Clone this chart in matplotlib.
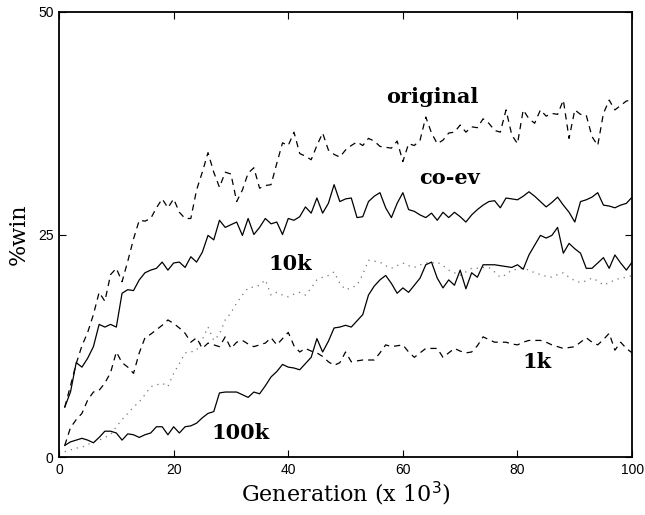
import matplotlib
matplotlib.use("Agg")
import matplotlib.pyplot as plt
import numpy as np

generation = list(range(1, 101))

original = [5.6, 8, 10.5, 12.5, 14, 16, 18.5, 17.5, 20.5, 21.2,
            19.7, 22, 24.5, 26.6, 26.5, 26.8, 28, 29, 28, 29,
            27.5, 26.8, 26.8, 30, 32, 34.2, 32, 30.3, 32, 31.8,
            28.7, 30, 31.9, 32.5, 30.2, 30.5, 30.6, 33, 35.3, 35,
            36.5, 34.1, 33.8, 33.4, 35, 36.4, 34.5, 34, 33.7, 34.5,
            35, 35.4, 35, 35.8, 35.5, 34.9, 34.8, 34.7, 35.5, 33.2,
            35.2, 35, 35.6, 38.2, 36.4, 35.2, 35.6, 36.4, 36.5, 37.3,
            36.5, 37.1, 37, 38, 37.5, 36.7, 36.5, 39, 36.2, 35.2,
            39, 38, 37.5, 39, 38.3, 38.6, 38.5, 40.1, 35.8, 39,
            38.5, 38.4, 36, 35, 38.6, 40.1, 39, 39.5, 40, 40.1]

coev = [5.6, 7.3, 10.6, 10.1, 11.1, 12.4, 14.9, 14.6, 14.9, 14.6,
        18.4, 18.8, 18.7, 19.9, 20.7, 21, 21.2, 21.9, 21, 21.8,
        21.9, 21.3, 22.5, 21.9, 23, 24.9, 24.4, 26.6, 25.8, 26.1,
        26.4, 24.9, 26.8, 25, 25.8, 26.8, 26.2, 26.4, 25, 26.8,
        26.6, 27, 28.1, 27.4, 29.1, 27.4, 28.5, 30.6, 28.7, 29,
        29.1, 26.9, 27, 28.7, 29.3, 29.7, 28, 26.9, 28.5, 29.7,
        27.8, 27.6, 27.2, 26.9, 27.4, 26.6, 27.5, 26.9, 27.5, 27,
        26.4, 27.2, 27.8, 28.3, 28.7, 28.8, 28, 29.1, 29, 28.9,
        29.3, 29.8, 29.3, 28.7, 28.1, 28.6, 29.2, 28.3, 27.5, 26.4,
        28.7, 28.9, 29.2, 29.7, 28.3, 28.2, 28, 28.3, 28.5, 29.2]

k10 = [0.6, 0.8, 1.0, 1.1, 1.4, 1.7, 1.9, 2.2, 2.5, 3.4,
       4.2, 4.9, 5.6, 6.2, 7, 7.9, 8.1, 8.3, 7.9, 9.4,
       10.5, 11.7, 11.8, 12, 13.2, 14.6, 13.1, 13.8, 15.4, 16.2,
       17.3, 18.2, 19, 19.1, 19.3, 19.9, 18.2, 18.5, 18.2, 18,
       18.3, 18.5, 18.2, 19, 19.9, 20.2, 20.4, 20.8, 19.5, 18.8,
       19, 19.3, 20.5, 22.1, 22, 21.9, 21.5, 21.2, 21.5, 21.8,
       21.5, 21.3, 21.6, 21.8, 21.8, 21.9, 21.5, 21, 20.7, 20.4,
       20.8, 21.2, 21.2, 21.3, 21.3, 20.8, 20.2, 20.5, 21, 21.1,
       21.2, 21, 20.7, 20.5, 20.3, 20.2, 20.5, 20.7, 20.2, 19.8,
       19.6, 19.8, 20.1, 19.8, 19.3, 19.6, 19.9, 20.1, 20.2, 20.4]

k1 = [1.3, 3.3, 4.2, 4.9, 6.4, 7.3, 7.5, 8.3, 9.5, 11.8,
      10.6, 10.1, 9.4, 11.7, 13.4, 13.8, 14.3, 14.8, 15.4, 15,
      14.5, 13.9, 12.9, 13.4, 12.2, 12.8, 12.6, 12.4, 13.5, 12.2,
      12.9, 13.1, 12.7, 12.4, 12.6, 12.8, 13.4, 12.6, 13.3, 14,
      12.5, 11.8, 12.2, 11.9, 11.7, 11.3, 10.7, 10.3, 10.6, 11.8,
      10.7, 10.8, 10.9, 10.9, 10.9, 11.7, 12.6, 12.4, 12.5, 12.6,
      11.8, 11.2, 11.7, 12.2, 12.2, 12.2, 11.2, 11.7, 12.2, 11.9,
      11.7, 11.8, 12.5, 13.5, 13.2, 12.9, 12.9, 12.9, 12.7, 12.6,
      12.9, 13.1, 13.1, 13.1, 12.9, 12.6, 12.4, 12.2, 12.3, 12.4,
      12.9, 13.4, 12.9, 12.6, 13.2, 13.9, 12, 12.9, 12.2, 11.7]

k100 = [1.3, 1.7, 1.9, 2.1, 1.9, 1.6, 2.2, 2.9, 2.9, 2.7,
        1.9, 2.6, 2.5, 2.2, 2.5, 2.7, 3.4, 3.4, 2.5, 3.4,
        2.7, 3.4, 3.5, 3.8, 4.4, 4.9, 5.1, 7.2, 7.3, 7.3,
        7.3, 7, 6.7, 7.3, 7.1, 8, 9, 9.6, 10.4, 10.1,
        10, 9.8, 10.5, 11.2, 13.3, 11.8, 13, 14.5, 14.6, 14.8,
        14.6, 15.3, 16, 18.2, 19.2, 19.9, 20.4, 19.5, 18.4, 19,
        18.5, 19.3, 20.1, 21.6, 21.9, 20.1, 19, 19.9, 19.3, 21,
        18.9, 20.7, 20.2, 21.6, 21.6, 21.6, 21.5, 21.4, 21.3, 21.6,
        21.1, 22.7, 23.8, 24.9, 24.6, 24.9, 25.8, 22.9, 24, 23.4,
        22.9, 21.2, 21.2, 21.8, 22.4, 21.2, 22.7, 21.8, 21, 21.9]

series_labels = ["original", "co-ev", "10k", "1k", "100k"]
label_pos = [(65.1, 40.4), (68.2, 31.3), (40.3, 21.7), (83.4, 10.7), (31.6, 2.7)]

x_ticks = [0, 20, 40, 60, 80, 100]
y_ticks = [0, 25, 50]

fig = plt.figure(figsize=(6.45, 5.15), dpi=100)
ax = fig.add_axes([0.0915, 0.1126, 0.8885, 0.8641])

lw = 0.9
ax.plot(generation, original, color="black", linestyle=(0, (5, 4)), linewidth=lw)
ax.plot(generation, coev, color="black", linestyle="-", linewidth=lw)
ax.plot(generation, k10, color="0.45", linestyle=(0, (1, 4)), linewidth=lw)
ax.plot(generation, k1, color="black", linestyle=(0, (5, 4)), linewidth=lw)
ax.plot(generation, k100, color="black", linestyle="-", linewidth=lw)

for lab, (lx, ly) in zip(series_labels, label_pos):
    ax.text(lx, ly, lab, ha="center", va="center", fontsize=15,
            family="DejaVu Serif", fontweight="bold")

ax.set_xlim(0, 100)
ax.set_ylim(0, 50)
ax.set_xticks(x_ticks)
ax.set_yticks(y_ticks)
ax.tick_params(direction="in", length=5, width=0.8, top=True, right=True,
               labelsize=10, pad=4)
for lbl in ax.get_xticklabels() + ax.get_yticklabels():
    lbl.set_family("Liberation Sans")
for sp in ax.spines.values():
    sp.set_linewidth(1.3)

ax.set_xlabel("Generation (x 10$^3$)", fontsize=16, family="DejaVu Serif", labelpad=2)
ax.set_ylabel("%win", fontsize=16, family="DejaVu Serif", labelpad=6)

fig.savefig("out.png", dpi=100)
